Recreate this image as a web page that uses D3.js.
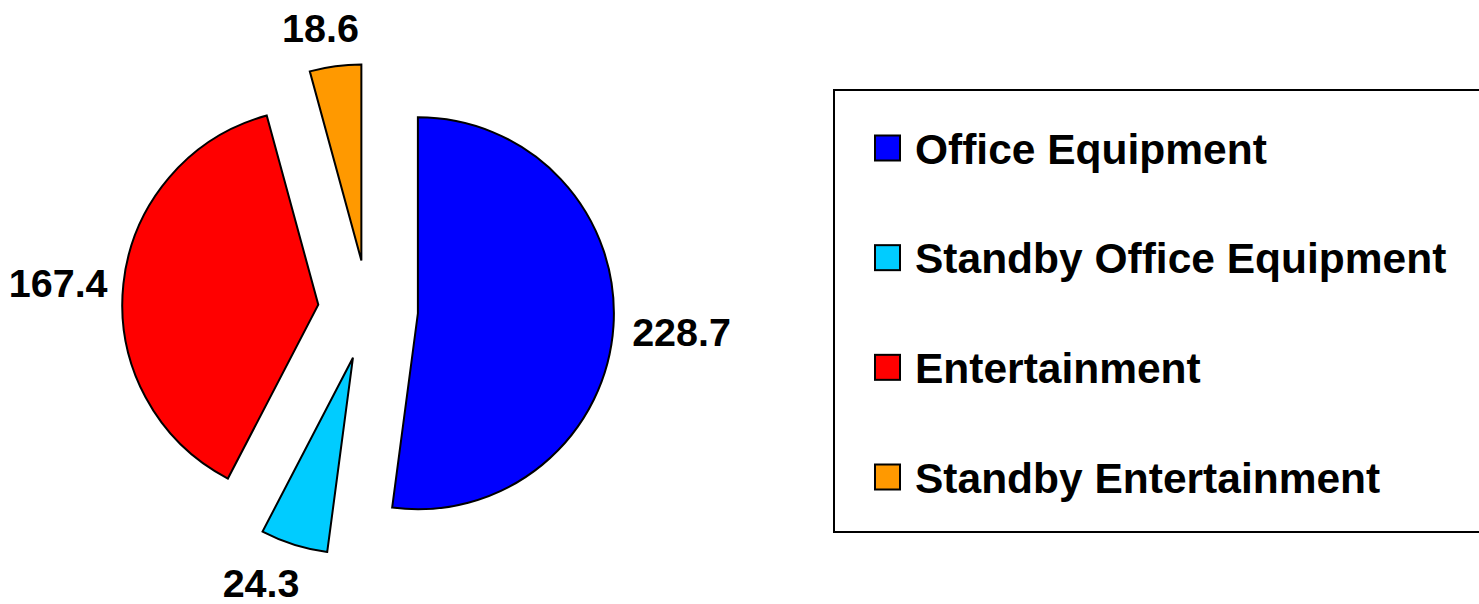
<!DOCTYPE html>
<html>
<head>
<meta charset="utf-8">
<script src="https://cdn.jsdelivr.net/npm/d3@7"></script>
<style>
  body { margin: 0; background: #fff; }
  text { font-family: Arial, "Liberation Sans", sans-serif; font-weight: bold; }
</style>
</head>
<body>
<svg id="chart" width="1479" height="604"></svg>
<script>
var categories = ["Office Equipment", "Standby Office Equipment", "Entertainment", "Standby Entertainment"];
var values = [228.7, 24.3, 167.4, 18.6];
var colors = ["#0000ff", "#00ccff", "#ff0000", "#ff9900"];

var svg = d3.select("#chart"),
    CX = 368,
    CY = 310,
    RADIUS = 196,
    EXPLODE = 50,
    LABEL_GAP = 18;

// small hand nudges so labels sit where the original put them
var labelNudge = [[0, 0], [-20, -4], [3, 5], [-10, -3]];

var data = categories.map(function(c, i) { return { name: c, value: values[i], color: colors[i], idx: i }; });

var pie = d3.pie().sort(null).value(function(d) { return d.value; });
var arc = d3.arc().innerRadius(0).outerRadius(RADIUS);

var slices = svg.append("g")
  .attr("transform", "translate(" + CX + "," + CY + ")")
  .selectAll("g")
  .data(pie(data))
  .enter().append("g")
  .attr("transform", function(d) {
    var mid = (d.startAngle + d.endAngle) / 2;
    return "translate(" + (EXPLODE * Math.sin(mid)) + "," + (-EXPLODE * Math.cos(mid)) + ")";
  });

slices.append("path")
  .attr("d", arc)
  .attr("fill", function(d) { return d.data.color; })
  .attr("stroke", "#000")
  .attr("stroke-width", 2)
  .attr("stroke-linejoin", "miter");

// value labels outside each slice
slices.append("text")
  .attr("font-size", 39.5)
  .attr("text-anchor", "middle")
  .attr("dominant-baseline", "central")
  .text(function(d) { return d.data.value.toFixed(1); })
  .each(function(d) {
    var mid = (d.startAngle + d.endAngle) / 2;
    var dx = Math.sin(mid), dy = -Math.cos(mid);
    var bb = this.getBBox();
    var half = Math.abs(dx) * bb.width / 2 + Math.abs(dy) * 28 / 2;
    var r = RADIUS + LABEL_GAP + half;
    var n = labelNudge[d.data.idx];
    d3.select(this).attr("x", r * dx + n[0]).attr("y", r * dy + 1 + n[1]);
  });

// legend
var legend = svg.append("g");
legend.append("rect")
  .attr("x", 834)
  .attr("y", 90)
  .attr("width", 700)
  .attr("height", 442)
  .attr("fill", "#fff")
  .attr("stroke", "#000")
  .attr("stroke-width", 2);

var ly = d3.scalePoint().domain(categories).range([148, 477]);

var items = legend.selectAll(".item")
  .data(data)
  .enter().append("g")
  .attr("class", "item")
  .attr("transform", function(d) { return "translate(0," + ly(d.name) + ")"; });

items.append("rect")
  .attr("x", 875)
  .attr("y", -12.5)
  .attr("width", 25)
  .attr("height", 25)
  .attr("fill", function(d) { return d.color; })
  .attr("stroke", "#000")
  .attr("stroke-width", 2);

items.append("text")
  .attr("x", 915)
  .attr("y", 1)
  .attr("dominant-baseline", "central")
  .attr("font-size", 42.5)
  .text(function(d) { return d.name; });
</script>
</body>
</html>
